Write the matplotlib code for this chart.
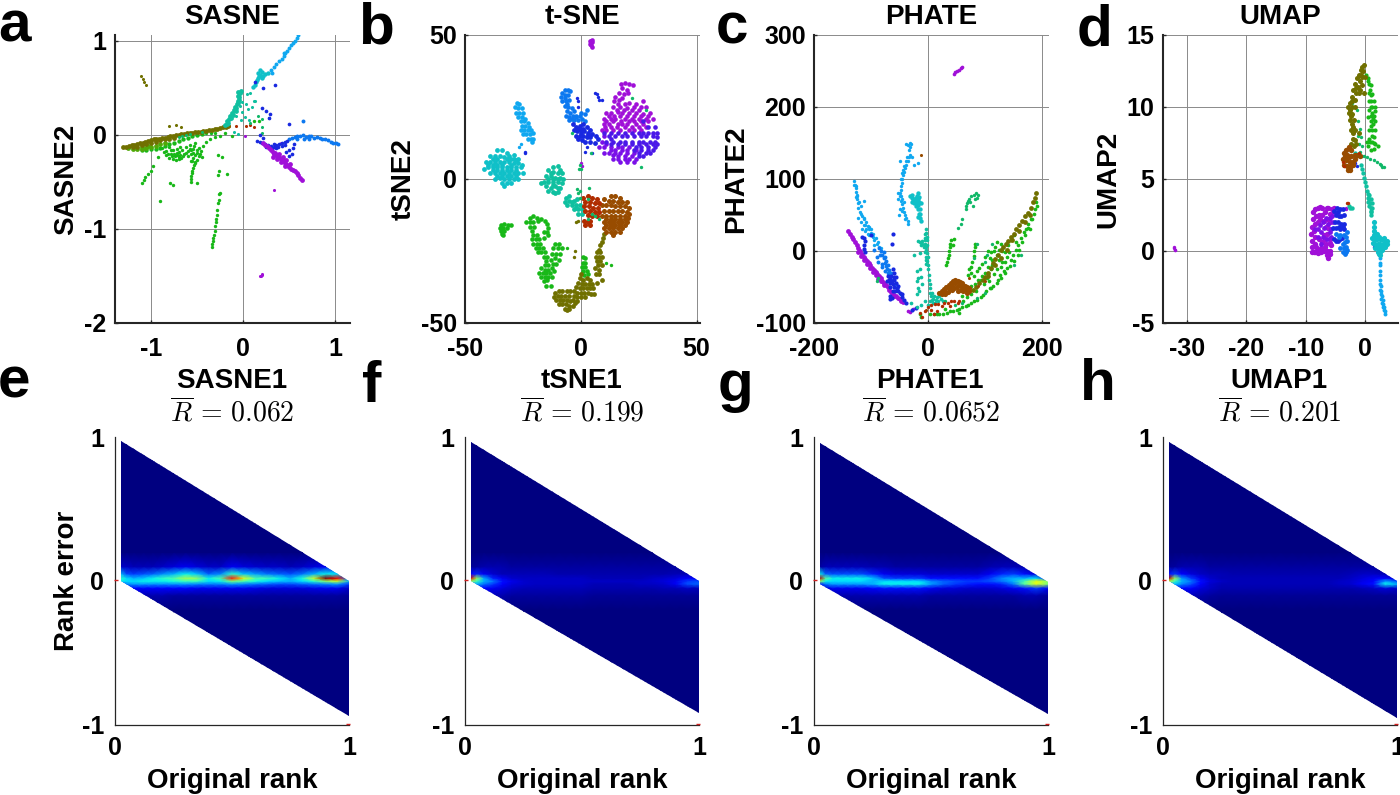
import numpy as np
import matplotlib
matplotlib.use('Agg')
import matplotlib.pyplot as plt
from matplotlib.patches import Polygon

plt.rcParams['font.family'] = ['Liberation Sans', 'DejaVu Sans']
plt.rcParams['font.weight'] = 'bold'
plt.rcParams['axes.unicode_minus'] = False
plt.rcParams['mathtext.fontset'] = 'cm'

# cluster colours
VIOLET = '#a010d8'
PURPLE = '#7a10e8'
INDIGO = '#4a18e8'
BLUE = '#1828e0'
AZURE = '#0c78f0'
SKY = '#10a8f0'
CYAN = '#10c0c8'
TEAL = '#10c0a0'
MINT = '#10b868'
GREEN = '#18b818'
LIME = '#50a808'
OLIVE = '#707000'
BROWN = '#984c00'
RED = '#b02c00'

# ---- SASNE
sasne_olive = [(-1.30,-.13),(-1.27,-.13),(-1.24,-.12),(-1.21,-.11),(-1.18,-.11),(-1.15,-.10),(-1.12,-.09),(-1.09,-.09),(-1.06,-.08),(-1.03,-.07),(-1.0,-.06),(-.97,-.05),(-.94,-.05),(-.91,-.04),(-.88,-.03),(-.85,-.03),(-.82,-.02),(-.79,-.01),(-.76,-.01),(-.73,0),(-.70,0),(-.67,.01),(-.64,.01),(-.61,.02),(-.58,.02),(-.55,.02),(-.52,.03),(-.49,.03),(-.46,.03),(-.43,.04),(-.40,.04),(-.37,.05),(-.34,.05),(-.31,.06),(-.28,.06),(-.25,.07),(-.22,.08),(-.19,.08),(-.16,.09),(-1.2,-.13),(-1.15,-.125),(-1.1,-.11),(-1.05,-.10),(-1.0,-.09),(-.95,-.075),(-.9,-.06),(-.85,-.05),(-.8,-.04),(-.75,-.03)]
sasne_olive_stray = [(-1.11,.62),(-1.09,.59),(-1.07,.56),(-1.05,.53),(-.80,.09),(-.73,.10),(-.67,.08)]
sasne_lime = [(-1.25,-.14),(-1.2,-.15),(-1.15,-.155),(-1.1,-.15),(-1.05,-.145),(-1.0,-.13),(-.95,-.115),(-.9,-.1),(-.85,-.085),(-1.1,-.13),(-1.03,-.115)]
sasne_green_core = [(-1.1,-.16),(-1.05,-.16),(-1.0,-.155),(-.95,-.15),(-.9,-.14),(-.85,-.12),(-.8,-.10),(-.75,-.085),(-.7,-.07),(-.65,-.05),(-.6,-.03),(-.55,-.01),(-.5,0),(-.45,.01)]
sasne_green = [(-.4,.02),(-.35,.02),(-.3,.02),
    (-.88,-.14),(-.84,-.17),(-.8,-.13),(-.78,-.2),(-.76,-.16),(-.74,-.23),(-.72,-.19),(-.7,-.26),(-.68,-.21),(-.66,-.16),(-.8,-.25),(-.76,-.26),(-.73,-.27),(-.7,-.24),(-.67,-.25),(-.64,-.2),(-.62,-.13),(-.6,-.17),(-.58,-.11),(-.56,-.2),(-.54,-.15),(-.52,-.09),(-.5,-.19),(-.48,-.14),(-.47,-.2),(-.45,-.24),(-.5,-.27),(-.54,-.25),(-.57,-.28),(-.58,-.15),(-.44,-.12),(-.92,-.24),(-.84,-.22),
    (-.78,-.16),(-.75,-.2),(-.72,-.15),(-.7,-.18),(-.68,-.13),(-.65,-.23),(-.62,-.19),(-.6,-.23),(-.56,-.16),(-.54,-.19),(-.52,-.22),(-.5,-.16),(-.48,-.23),(-.46,-.17),(-.53,-.12),(-.55,-.28),(-.52,-.3),(-.86,-.18),(-.82,-.2),(-.77,-.23),(-.72,-.22),
    (-.57,-.5),(-.565,-.47),(-.56,-.44),(-.555,-.41),(-.55,-.38),(-.545,-.35),(-.535,-.32),(-.52,-.29),(-.5,-.51),
    (-.34,-1.19),(-.335,-1.16),(-.33,-1.13),(-.325,-1.1),(-.32,-1.07),(-.31,-1.02),(-.30,-.97),(-.295,-.93),(-.29,-.89),(-.285,-.85),(-.28,-.8),(-.27,-.73),(-.265,-.69),(-.26,-.63),(-.255,-.62),
    (-1.1,-.51),(-1.08,-.48),(-1.06,-.45),(-1.03,-.42),(-1.0,-.38),(-.98,-.33),(-.79,-.51),(-.76,-.53),(-.9,-.7),(-.27,-.22),(-.23,-.24),(-.26,-.38),(-.18,-.42),(-.27,-.43),
    (-.4,-.08),(-.36,-.05),(-.3,-.02),(-.25,-.01),(-.2,.02),(-.12,-.01),(.12,.15),(.17,.15)]
sasne_mint = [(-.7,-.02),(-.66,-.01),(-.62,0),(-.58,.01),(-.45,.03),(.08,.12),(.16,.2),(.2,.17),(.28,.18),(.2,.08),(.2,.02)]
sasne_teal = [(-.2,.1),(-.18,.11),(-.17,.15),(-.16,.13),(-.15,.17),(-.14,.2),(-.13,.18),(-.12,.23),(-.11,.21),(-.10,.26),(-.09,.3),(-.08,.28),(-.07,.33),(-.06,.36),(-.05,.34),(-.06,.41),(-.04,.4),(-.05,.45),(-.03,.44),(-.02,.46),(-.08,.25),(-.04,.37)]
sasne_teal_stray = [(-.03,.31),(-.01,.35),(.03,.33),(.05,.27),(-.01,.24),(.02,.19),(-.08,.2),(.06,.16),(-.02,.16),(.1,.3),(.12,.36),(.04,.43),(.08,.44),(.13,.36),(-.1,.03),(-.06,.01)]
sasne_cyan = [(.11,.51),(.13,.53),(.14,.56),(.15,.58),(.16,.6),(.17,.62),(.165,.66),(.18,.64),(.18,.69),(.2,.6),(.22,.62),(.24,.65),(.27,.66),(.2,.67)]
sasne_sky = [(.3,.69),(.33,.72),(.36,.75),(.39,.78),(.42,.81),(.44,.84),(.46,.87),(.48,.89),(.5,.92),(.52,.95),(.54,.97),(.56,1.0),(.58,1.03),(.6,1.06),(.44,.87),(.31,.66)]
sasne_azure = [(.5,-.04),(.53,-.03),(.56,-.02),(.59,-.01),(.62,-.01),(.65,0),(.68,-.02),(.71,-.01),(.74,-.01),(.77,-.03),(.8,-.02),(.83,-.03),(.86,-.04),(.89,-.05),(.92,-.06),(.95,-.08),(.98,-.09),(1.01,-.09),(1.03,-.1),(.66,-.05),(.72,-.05),(.58,-.05),(.65,.15)]
sasne_blue = [(.15,-.07),(.18,-.08),(.21,-.09),(.24,-.1),(.27,-.11),(.3,-.12),(.33,-.1),(.36,-.11),(.39,-.1),(.42,-.09),(.45,-.08),(.48,-.07),(.25,-.13),(.31,-.15),(.36,-.14),(.5,-.16),(.54,-.14),(.53,-.2),(.5,-.23),(.47,-.18),(.55,-.1),(.22,-.03),(.18,0),(.13,.56),(.22,.5),(.35,.53),(.2,.28),(.25,.25),(.29,.22),(.28,.18),(.5,.11),(.34,-.13),(.38,-.13),(.42,-.12),(.46,-.11)]
sasne_violet = [(.22,-.09),(.24,-.11),(.26,-.12),(.28,-.14),(.3,-.16),(.32,-.18),(.34,-.2),(.36,-.22),(.38,-.23),(.4,-.25),(.42,-.27),(.44,-.28),(.46,-.3),(.48,-.32),(.5,-.34),(.52,-.36),(.54,-.37),(.56,-.39),(.58,-.41),(.6,-.43),(.62,-.46),(.64,-.48),(.35,-.19),(.39,-.2),(.43,-.24),(.47,-.27),(.51,-.31),(.32,-.24),(.37,-.26),(.41,-.29),(.45,-.33)]
sasne_violet_stray = [(.02,-.01),(.34,-.59),(.18,-1.5),(.19,-1.5),(.2,-1.49),(.21,-1.48),(.41,-.09)]
sasne_red = [(-.08,.09),(-.15,.09),(.03,.09),(.08,.1),(.12,.08)]

# ---- t-SNE
tsne_violet = [(4,47),(4.5,48),(5,47.5),(4.5,46.5),(5,46),(4.2,47.8),(5,48.2),(17.5,33),(19,33.5),(21,33),(22.5,32.5),(18,31.5),(20,31),(16.5,30),(18.5,29.5),(20.5,30),(15,28.5),(16.5,27.5),(18,28),(14.5,27),(16,26),(19,26),(21,26.5),(24,26),(27,27),
    (14,25),(17,25),(20,24.6),(23,25),(26,25),(28,25),(11,23),(13,23),(16,23.4),(18,23),(21,23),(24,23),(27,22.6),(30,23),(10,21),(13,21),(15,21),(19,21),(22,21),(25,21),(28,21),(31,21),(10,19),(12,19),(16,19),(18,19),(20,19),(24,19),(27,19),(9,17),(11,17),(14,17),(17,17),(21,17),(23,17),(26,17),
    (15.5,24),(18.5,24),(22,24),(25,24),(12,22),(14.5,22),(17,22),(20,22),(23,22),(26,22),(29,22),(11,20),(14,20),(17.5,20),(21,20),(23,20),(26,20),(29,20),(10.5,18),(13,18),(15.5,18),(19,18),(22,18),(25,18),(28,18)]
tsne_violet_stray = [(0.6,4.5),(.3,5.5)]
tsne_indigo = [(29,18),(32,18),(29,16),(31,16),(33,16),(12,15),(15,15),(18,15),(20,15),(23,15),(26,15),(28,15),(31,15),(33,14.5),(11,13),(14,13),(17,13),(19,13),(22,13),(25,13),(27,13),(30,13),(32,13),(24,11),(26,11),(29,11),(32,11),(25,9),(28,9),(30,9),(13,14),(19,12),(27,20),
    (10,16),(13,16),(16,16),(19,16),(22,16),(25,16),(27,16),(13,12),(16,12),(22,12),(25,12),(28,12),(31,12),(33,12),(23,10),(26,10),(29,10),(31,10),(25,8),(27,8)]
tsne_purple = [(9,13),(10,15),(8,11),(10,11),(13,11),(16,11),(18,11),(21,11),(10,9),(12,9),(15,9),(17,9),(20,9),(23,9),(14,7),(16,7),(19,7),(21,7),(24,7),(17,6),(20,6),(23,6),(13,10),(16,8),(22,8),(11,12),(18,10),(20,10),(15,10),(19,8),(14,8.5),(24,10)]
tsne_blue = [(-3.5,19),(-2,18),(-.5,18.5),(1,19),(2.5,18),(4,17),(-3,17),(-1.5,16.5),(0,17),(1.5,16.5),(3,16),(5,15.5),(6.5,15),(-2,15),(-.5,15),(1,15),(2.5,14.5),(4,14.5),(7.5,14),(-1,14),(.5,13.5),(2,13),(4,13),(6,12.5),(-1,17.5),(1,17.5),(3,15.2),(0,16)]
tsne_blue_stray = [(2.5,11),(5,9),(2,9.5),(-1,27),(-1.5,28),(-1,25),(6,30),(7,29.5),(7.5,28.5),(8,27.5),(9,27.5),(-24,9),(-24,9.5)]
tsne_azure = [(-8,30),(-7,31),(-5.5,31),(-4.5,30.5),(-8.5,28.5),(-7,29),(-5.5,29),(-8,27),(-6.5,27),(-5,27.5),(-7,25.5),(-5.5,25),(-4,24.5),(-6,23.5),(-4.5,23),(-3,23.5),(-6.5,22),(-5,21.5),(-3.5,22),(-2,22),(-.5,22),(-5,20.5),(-3,20.5),(-1,20.5),(.5,21),(2,20),(0,23),(2,22.5),(2.5,24),(-7,28),(-6,26),(-4,21),(-2,21.5)]
tsne_sky = [(-27.5,26.5),(-26.5,26),(-28.5,25),(-27,24.5),(-25.5,24.5),(-28,23),(-26.5,23),(-25,23),(-27,21.5),(-25.5,21.5),(-24,21),(-26,20),(-24.5,20),(-23,19.5),(-25.5,18.5),(-24,18.5),(-22.5,18),(-26,17),(-24.5,17),(-23,17),(-21.5,17),(-25,15.5),(-23.5,15.5),(-22,15.5),(-20.5,16),(-23,14),(-21.5,14),(-20.5,14),(-21,13)]
tsne_sky_stray = [(-26,12),(-26.5,11)]
tsne_cyan = [(-36,10),(-34,10),(-32,9),(-29,8.5),(-39,8),(-37,8),(-35,8),(-33,7.5),(-31,8),(-29,7),(-27,7),(-41,6),(-39,6),(-37,6),(-35,6),(-33,6),(-31,6),(-29,5.5),(-27,5.5),(-25.5,5),(-40,4),(-38,4),(-36,4),(-34,4),(-32,4),(-30,4),(-28,4),(-26,4),(-39,2),(-37,2),(-35,2),(-33,2),(-31,2),(-29,2),(-27,2),(-37,0),(-35,.3),(-33,0),(-31,0),(-29,0),(-27,0),(-34,-1.5),(-32,-1.5),(-30,-1.5),(-33,-2.5),(-42,3.5),(-25,2),
    (-38,7),(-36,7),(-34,5),(-32,7),(-30,7),(-28,6.5),(-40,5),(-38,5),(-36,5),(-30,5),(-28,3),(-38,3),(-36,3),(-34,3),(-32,3),(-30,3),(-36,1),(-34,1),(-32,1),(-30,1),(-28,1)]
tsne_teal = [(-10,4.5),(-12,4),(-9,3),(-14,3),(-12,2.5),(-10,2),(-8,2),(-15,1),(-13,1),(-11,.5),(-9,.5),(-7.5,0),(-16,-1),(-14,-1),(-12,-1),(-10,-1),(-8,-1.5),(-17,-1.5),(-15,-2.5),(-13,-3),(-11,-2.5),(-9,-3),(-14,-4),(-12,-4.5),(-10,-4.5),(-11,-5),(-6.5,-6.5),(-5,-6),(-7,-8),(-5,-7.5),(-3,-7.5),(-1.5,-7),(-6,-9),(-4,-9),(-2,-9),(-.5,-9),(-3,-10.5),(-1,-10.5),(.5,-10.5),(-1,-12),(.5,-12),(-13,2),(-14,0),(-10,0),(-12,0),(-12,-2),(-10,-3),(-4,-8),(-2,-10)]
tsne_mint = [(-.5,5),(0,3.5),(-.6,3.5),(3,-7),(4.5,9),(-.5,-4),(5,-12),(6,-13),(3,-14),(8,-14),(26,4),(28,24),(22,28),(-4,16),(3.5,-3),(-.5,-6.5),(-1.5,-3.5),(-1,-5)]
tsne_red = [(1,-6.5),(3,-6),(5,-6.5),(7,-7),(2,-8),(4,-8),(6,-8.5),(8,-8.5),(1.5,-9.5),(3.5,-9.5),(5.5,-10),(7.5,-10),(2,-11),(4,-11),(6,-11.5),(8,-11.5),(3,-12.5),(5,-13),(7,-13),(1.5,-14.5),(3,-15),(2,-16),(4,-16),(4,-14.5)]
tsne_brown = [(13,-6),(15,-6),(17,-6.5),(10,-7),(12,-7.5),(14,-7.5),(16,-8),(18,-8),(20,-8),(9,-9),(11,-9),(13,-9),(15,-9.5),(17,-9.5),(19,-9.5),(21,-10),(10,-11),(12,-11),(14,-11),(16,-11),(18,-11),(20,-11.5),(21,-12),(9,-13),(11,-13),(13,-13),(15,-13),(17,-13),(19,-13),(20.5,-13.5),(10,-15),(12,-15),(14,-15),(16,-15),(18,-15),(20,-15),(10,-17),(12,-17),(14,-17),(16,-17),(18,-17),(11,-18.5),(13,-18.5),(15,-18.5),(17,-18.5),(14,-19.5),(11,-14),(13,-14),(15,-14),(17,-14),(19,-14),(11,-16),(13,-16),(15,-16),(17,-16),(19,-16)]
tsne_olive = [(10,-19),(9.5,-20.5),(9,-22),(8.5,-23),(8,-24.5),(7,-25.5),(8.5,-25.5),(6.5,-27),(8,-27),(9,-27),(7,-28.5),(8.5,-28.5),(7.5,-30),(9,-30),(6,-31),(8,-31.5),(6.5,-33),(8,-33),(9,-35),
    (0,-33),(-.5,-34.5),(1,-35),(2.5,-34.5),(4,-35),(-1,-36),(.5,-36.5),(2,-36.5),(3.5,-36.5),(5,-36.5),(7,-36),(-2,-37.5),(-.5,-38),(1,-38),(2.5,-38),(4,-38),(5.5,-38),(-3,-39),(-1.5,-39.5),(0,-39.5),(1.5,-39.5),(3,-39.5),(4.5,-40),(5.8,-40),(-4.5,-39),(-3,-40.5),(-1.5,-41),(0,-41),(2,-41),(-6,-39),(-5,-40.5),(-3.5,-42),(-1.5,-42.5),(-11,-39.5),(-9.5,-39),(-8,-39),(-11.5,-41),(-10,-40.5),(-8.5,-40.5),(-7,-40.5),(-10.5,-42),(-9,-42),(-7.5,-42),(-6,-42),(-4.5,-42.5),(-2.5,-43),(-9.5,-43.5),(-8,-43.5),(-6.5,-43.5),(-5,-44),(-3.5,-44),(-7,-45),(-5,-45),(-6,-45.5)]
tsne_olive_stray = [(-3,-27),(-2.5,-25),(-2,-15),(-1,-14.5)]
tsne_green = [(-22,-13.5),(-20.5,-13),(-19,-13.5),(-23.5,-15),(-22,-15),(-20.5,-15),(-18.5,-14.5),(-17,-14),(-15.5,-14.5),(-22,-16.5),(-20,-16.5),(-14.5,-15.5),(-21,-18),(-14,-17),(-16,-18.5),(-14.5,-18.5),(-20.5,-19.5),(-19,-19.5),(-14,-19.5),(-21,-21),(-19.5,-21),(-18,-21),(-16,-20.5),(-20.5,-22.5),(-19,-22.5),(-17.5,-22.5),(-19.5,-24),(-18,-24),(-16.5,-24),(-11,-22.5),(-9.5,-22.5),(-18.5,-25.5),(-17,-25.5),(-15.5,-25.5),(-12,-24),(-10,-24),(-8,-24),(-16,-27),(-14.5,-27),(-12.5,-26),(-10.5,-26),(-9,-26),(-15,-28.5),(-13,-28),(-11,-27.5),(-9.5,-28),(-15.5,-30),(-14,-30),(-12,-29.5),(-10.5,-29.5),(-17,-31),(-15.5,-31.5),(-14,-31.5),(-12.5,-31),(-18,-32.5),(-16.5,-32.5),(-15,-32.5),(-13.5,-32.5),(-11.5,-32),(-17,-34),(-15.5,-34),(-14,-34),(-12.5,-34),(-16,-35.5),(-14.5,-35),(-15,-37),(-13,-37),
    (-34.5,-15.8),(-33,-15.5),(-31.5,-16),(-30,-16),(-35,-17),(-33.5,-17),(-32,-17),(-34.5,-18),(-33,-18),(-34,-19),(-33.5,-19.4),(1,-27),(2,-27.5),(.8,-29),(2,-29),(.5,-30.5),(1.8,-30.5),(1,-32),(2.5,-32),(1.5,-33.5),(3,-33)]
tsne_green_stray = [(-6,-24),(13,-30),(11,-29)]

# ---- PHATE
phate_violet = [(-140,28),(-137,24),(-134,20),(-131,16),(-128,12),(-125,8),(-122,4),(-119,0),(-116,-4),(-113,-8),(-110,-11),(-107,-14),(-104,-17),(-101,-20),(-98,-23),(-95,-26),(-92,-29),(-89,-32),(-86,-35),(-83,-38),(-80,-41),(-77,-44),(-74,-47),(-71,-50),(-68,-54),(-65,-57),(-62,-60),(-59,-62),(-56,-63),(-53,-65),(-50,-67),(-47,-69),(-44,-71),(-122,-1),(-117,-7),(-112,-13),(-107,-18),(-102,-24),(-97,-29),(-92,-33),(-87,-39),(-82,-42),(-77,-47)]
phate_violet_line = [(45,246),(48,248),(51,250),(54,252),(57,254),(60,256),(-26,-80),(-35,-84),(-31,-85)]
phate_blue = [(-115,20),(-112,18),(-110,14),(-113,8),(-112,3),(-110,-1),(-100,22),(-62,-25),(-59,-30),(-57,-36),(-60,-40),(-68,-40),(-72,-42),(-66,-44),(-62,-46),(-66,-50),(-60,-50),(-55,-52),(-62,-56),(-67,-62),(-66,-66),(-63,-65),(-50,-58),(-46,-64),(-42,-68),(-38,-72),(-65,-35),(-70,-35),(-62,24),(-64,10),(-28,-82),(-22,-79),(-66,-38),(-60,-36),(-63,-42),(-57,-44),(-53,-48),(-58,-55),(-52,-55),(-46,-60)]
phate_sky = [(-129,97),(-128,92),(-127,87),(-126,82),(-125,77),(-124,72),(-123,66),(-122,60),(-120,54),(-118,62),(-113,70),(-115,48),(-112,44),(-109,40),(-106,35),(-103,30),(-100,25),(-97,20),(-94,15),(-90,10),(-86,6),(-82,4),(-122,46),(-118,40),(-113,36),(-108,30),(-103,22),(-95,8),(-32,150),(-35,147),(-38,148),(-32,145),(-30,148),(-33,140),(-31,134),(-34,130),(-36,125),(-38,120),(-40,115),(-42,110),(-44,105),(-45,100),(-46,95),(-47,90),(-48,85),(-49,80),(-50,76),(-52,72),(-48,70),(-46,65),(-44,60),(-50,58),(-42,54),(-40,50),(-38,46),(-36,42),(-35,38),(-51,50),(-28,130),(-25,120),(-18,122),(-50,125),
    (-130,92),(-126,90),(-124,78),(-127,75),(-121,68),(-117,52),(-113,46),(-110,36),(-104,34),(-100,30),(-96,24),(-92,18),(-88,12),(-106,24),(-110,28),(-116,30),(-37,130),(-39,125),(-42,118),(-44,112),(-45,108),(-47,100),(-52,80),(-48,76),(-46,72),(-42,68),(-45,55),(-40,44)]
phate_azure = [(-86,4),(-83,0),(-80,-5),(-78,-10),(-76,-16),(-74,-21),(-72,-25),(-70,-30),(-90,-8),(-87,-15),(-80,-18),(-75,-28),(-66,-33),(-62,-40),(-57,-46),(-54,-52),(-48,-60),(-94,2),(-80,-22),(-84,-6),(-78,-2),(-76,-8),(-74,-14),(-71,-20),(-68,-26),(-65,-30)]
phate_cyan = [(-32,76),(-28,74),(-24,72),(-20,76),(-17,80),(-16,75),(-20,68),(-25,66),(-22,62),(-18,58),(-16,52),(-14,46),(-18,47),(-13,42),(-29,68),(-12,66),(-28,78),(-26,70),(-22,70),(-18,72),(-22,74),(-16,68),(-20,64),(-18,64),(-15,58),(-14,52)]
phate_teal = [(-3,30),(-3,25),(-2,20),(-2,15),(-6,15),(-10,14),(-14,12),(-18,14),(-10,10),(-5,9),(-2,8),(-3,2),(-2,-3),(-1,-8),(-2,-14),(-1,-20),(0,-25),(2,-40),(3,-46),(4,-52),(7,-58),(10,-62),(14,-68),(8,-66),(4,-70),(16,-64),(22,-66),(26,-70),(-14,-25),(-20,-28),(-12,-36),(-17,-38),(-20,-42),(-16,-56),(-20,-60),(-25,-6),(-15,-3),(-18,-52),(-5,-70),(-12,-75),(-20,-78),(-30,-72),(-10,-46),(0,-75),
    (-5,24),(-6,10),(-4,5),(-8,6),(-5,-2),(-4,-8),(-3,-12),(-5,18),(-12,8),(-4,-18),(5,-62),(8,-72),(12,-72),(18,-70),(20,-62),(3,-58),(6,-68),(1,-34)]
phate_mint = [(66,62),(69,66),(72,72),(76,76),(80,78),(84,80),(66,58),(82,72),(78,62),(60,45),(57,38),(53,32),(-90,-42),(-88,-38),(112,10),(103,-5),(100,-15),(86,10),(80,-10),(30,-70),(47,-75),(60,-72),(85,-65),(100,-58),(150,-20),(163,-5),(70,70),(74,68),(87,78),(85,74)]
phate_green = [(41,15),(39,10),(38,5),(37,0),(36,-5),(35,-10),(33,-15),(32,-20),(45,16),(44,8),(83,10),(82,5),(81,0),(80,-7),(77,-15),(75,-22),(72,-25),(70,-33),(75,-30),(80,-35),(85,-28),(90,-24),(88,-40),(82,-46),(75,-48),(68,-52),(95,-35),(100,-30),(105,-22),(95,-18),(100,-8),(105,0),(110,-2),(112,-12),(118,5),(120,-6),(125,2),(128,10),(130,-15),(135,-2),(140,8),(145,15),(150,22),(155,12),(143,-21),(120,-44),(96,-61),(67,-77),(44,-84),(20,-88),(3,-88),(150,-14),(157,-5),(160,2),(165,12),(170,22),(175,32),(178,30),(183,45),(188,58),(191,62),(190,68),(135,-30),(128,-38),(110,-52),(85,-68),(75,-72),(55,-80),(33,-86),(10,-87),(55,-86),(30,-80),(-15,-88),(-12,-92),(62,-70),(60,-63),(110,-25),(103,-38),(115,-32),
    (186,52),(181,44),(176,38),(172,30),(168,26),(163,18),(158,8),(154,2),(149,-6),(145,-12),(138,-24),(133,-28),(126,-34),(122,-40),(114,-48),(108,-52),(102,-56),(92,-64),(80,-70),(70,-75),(60,-78),(50,-82),(38,-84),(26,-87),(15,-87),(108,-10),(115,0),(120,12),(125,-12),(130,0),(138,-8),(142,-2),(112,-20),(92,-40),(98,-46),(106,-42),(84,-55),(76,-60),(68,-64),(120,-25),(128,-22),(135,-15)]
phate_olive = [(190,80),(187,73),(184,68),(180,60),(175,53),(170,48),(165,42),(160,36),(155,30),(150,24),(145,19),(140,14),(136,10),(131,6),(127,1),(122,-6),(118,-11),(114,-17),(110,-23),(105,-30),(100,-36),(96,-40),(90,-45),(84,-50),(79,-54),(178,50),(170,40),(160,28),(148,15),(138,2),(128,-10),(118,-20),(105,-35)]
phate_brown = [(20,-58),(24,-56),(28,-53),(32,-50),(36,-47),(40,-44),(44,-42),(48,-40),(52,-42),(56,-43),(60,-45),(64,-48),(68,-50),(72,-52),(24,-60),(30,-57),(36,-52),(42,-48),(48,-45),(54,-47),(60,-50),(66,-53),(35,-57),(42,-54),(50,-50),(57,-54),(72,-56),(68,-58),(46,-52),(52,-55),(62,-55),(30,-60)]
phate_brown_stray = [(-3,-82),(88,-48),(100,-41),(72,-38),(-12,133)]
phate_red = [(5,-75),(12,-73),(18,-74),(28,-72),(35,-72),(40,-70),(46,-70),(52,-72),(5,-82),(15,-84),(0,-78),(-5,-84),(-14,-86),(-10,-92),(24,-76),(10,-88),(38,-76),(55,-70)]

# ---- UMAP
umap_violet = [(-8.8,2.7),(-8.4,2.9),(-8,3),(-7.6,3.05),(-7.2,3),(-8.8,2.2),(-8.3,2.4),(-7.8,2.5),(-7.3,2.5),(-6.8,2.7),(-9,1.7),(-8.5,1.9),(-8,2),(-6.4,2.2),(-6,2.6),(-9.1,1.2),(-6.6,1.7),(-6,2),(-9,.7),(-8.5,1),(-7,1.1),(-6.4,1.2),(-8.9,.25),(-8.4,.5),(-7.8,.8),(-7.2,.6),(-6.6,.5),(-6,.8),(-5.7,.4),(-8.9,-.1),(-8.4,-.1),(-8,.1),(-7.5,.2),(-7,0),(-6.5,0),(-6,0),(-6.4,-.3),(-6.2,-.5),(-6,-.2),(-6.2,-.15),(-8.7,-.05),(-8,-.15),(-7.5,-.1),(-5.6,2.9),(-5.2,3),(-6.5,3),(-6.2,3),(-7,2.1),(-7.6,2.2),(-8.6,1.4),(-6.3,1.6),(-6.8,.8),(-5.9,.55),(-8.2,.3),(-7.5,.1),(-6.8,.25)]
umap_violet_stray = [(-32.2,.3),(-32.1,.2),(-32,.1),(-31.9,.05),(-3.3,2.95),(-3.2,3)]
umap_purple = [(-8.4,1.5),(-8,1.5),(-7.6,1.8),(-7.1,2),(-8,1),(-7.5,1.3),(-7,1.6),(-5.7,1.5),(-6.5,.8),(-7.5,.5),(-7.1,1),(-5.8,1),(-5.5,2),(-5.6,2.4),(-5.3,2.7),(-6.6,2.3),(-6.2,1.9),(-5.9,1.3),(-6,2.3)]
umap_blue = [(-4.8,3),(-4.3,2.9),(-3.8,2.9),(-5,2.5),(-4.5,2.4),(-4,2.4),(-3.6,2.5),(-5.1,2),(-4.6,2),(-4,1.9),(-3.5,1.9),(-5,1.6),(-3.6,1.5),(-4.2,1.5),(-5.3,.8),(-5,.7),(-4.6,.7),(-4.2,.8),(-3.9,.9),(-5.4,1.6),(-4.6,2.7),(-5.2,2.8),(-4.5,1.7),(-3.8,1.7)]
umap_blue_stray = [(-1.8,6.1),(-1.4,5.9),(1.5,.3),(1.6,.4)]
umap_azure = [(-4.9,1.2),(-3.5,1.1),(-3.2,1),(-3.8,.5),(-3.4,.6),(-3.1,.7),(-4.2,.2),(-3.6,.2),(-3.2,.3),(-3.8,-.1),(-3.3,-.1),(-3.1,.1),(-3.4,-.2),(-3,1.3),(-4.2,1.1),(-4.4,.95)]
umap_sky = [(2.4,-2.3),(2.6,-2.4),(2.5,-2.7),(2.7,-2.8),(2.6,-3),(2.8,-3.1),(2.7,-3.3),(2.9,-3.4),(2.8,-3.6),(3,-3.7),(3,-3.9),(3.2,-3.9),(3.1,-4.1),(3.3,-4.2),(3.3,-4.4),(2.5,-2),(2.4,-1.7),(2.5,-1.4),(2.4,-1),(2.5,-.8),(2.5,-.5)]
umap_cyan = [(1.5,2),(1.4,1.7),(1.5,1.4),(1.4,1.1),(1.6,1.2),(2,1.15),(2.3,1),(1.2,.9),(1.6,.85),(2,.8),(2.4,.8),(2.8,.85),(3.2,.9),(1.3,.55),(1.7,.5),(2.1,.5),(2.5,.5),(2.9,.5),(3.3,.6),(3.6,.7),(3.7,.5),(1.7,.2),(2.1,.2),(2.5,.25),(2.9,.25),(3.3,.3),(2.1,-.05),(2.5,-.05),(2.8,.05),(2.3,-.2),(2.4,-.3)]
umap_teal = [(-.7,6),(-.5,5.7),(-.35,5.4),(-.2,5.1),(-.1,4.8),(.1,4.5),(.25,4.2),(.5,3.95),(.7,3.9),(.4,3.7),(.7,3.6),(1,3.6),(.5,3.4),(.8,3.3),(1.1,3.3),(.6,3.1),(.9,3),(1.1,3),(.9,2.7),(1,2.5),(.95,2.8),(-2.7,3.1),(-2.5,3),(-2.3,3),(-1.7,6.8),(-1.4,6.7)]
umap_mint = [(-.5,6.6),(-.2,6.6),(.3,6.5),(.8,6.4),(1.4,6.3),(1.9,6.15),(2.4,6.05),(2.8,5.85),(3.2,5.8),(2.6,5.95),(-1.2,9),(-.9,8.5),(-1.3,8),(-.7,7.9),(-1.1,7.4),(-.5,7.3),(-.9,6.9),(-2.2,10.3),(-1.4,9.8)]
umap_green = [(.2,12.2),(.4,11.8),(.7,11.6),(.8,11.2),(.9,10.8),(.95,10.4),(1.1,10),(1.2,9.6),(1.3,9.2),(1.3,8.8),(1.1,8.4),(1.2,8),(1.1,7.6),(1.4,7.5),(1.7,7.4),(2.2,7.3),(1.5,7.9),(1.6,8.4),(1.7,9),(1.7,9.7),(.6,10.4),(.7,9.8),(.6,11),(.9,9),(.7,8.4),(.6,7.8),(.3,7.6),(.5,7.3),(1.5,7.1),(1,7),(.4,9.3),(1.6,10),(.5,12),(.9,11.5),(1.2,10.9),(1.4,10.4),(1.5,9.4),(.9,10),(1,9.4),(1,8.7),(.8,7.6)]
umap_olive = [(-.2,12.9),(-.5,12.8),(-.3,12.5),(-.8,12.6),(-.1,12.1),(-.5,12.1),(-1.1,12.2),(-1.4,12),(-.9,11.8),(-1.7,11.6),(-1.2,11.4),(-.5,11.5),(-2,11.2),(-1.6,11),(-1.1,11),(-2.2,10.7),(-1.8,10.5),(-2.6,10.3),(-2.2,10),(-2.9,10),(-2.7,9.6),(-2.3,9.5),(-2.6,9.1),(-2.2,8.8),(-2.4,8.4),(-2,8.2),(-2.1,7.8),(-1.7,7.7),(-2.4,7.4),(-1.9,7.3),(-1.5,7.4),(-1,8.2),(-.9,11.2),(-.2,11),(-.8,12.2),(-1.5,11.3),(-2.3,10.4),(-2.6,9.8),(-1.8,10),(-1.9,9.1),(-2.4,9.4),(-2,8.6),(-1.7,8.4)]
umap_brown = [(-2.8,7.2),(-3.2,7),(-2.4,7),(-3.5,6.8),(-3,6.7),(-2.4,6.6),(-1.8,6.7),(-3.7,6.4),(-3.2,6.3),(-2.6,6.2),(-2.1,6.2),(-1.7,6.4),(-3.5,5.95),(-3,5.9),(-2.5,5.8),(-2,5.95),(-2.9,5.6),(-2.6,5.6),(-1.3,6.7),(-.9,6.6),(-3.4,6.6),(-2.8,6.5)]
umap_red = [(-3.1,3.35),(-2.95,3.3),(-1.1,6.8),(-3.6,5.9),(-3.7,6.2)]

# ---- rank error heat maps
rank_x = [.025,.05,.08,.12,.16,.2,.25,.3,.35,.4,.45,.5,.55,.6,.65,.7,.75,.8,.85,.9,.95,1.0]
rank_y = [-1.0,-.2,-.10,-.05,-.02,0,.02,.05,.10,.2,1.0]
heat_zero = [0]*22
sasne_heat = [heat_zero, heat_zero,
    [0,.02,.04,.04,.04,.04,.03,.03,.03,.03,.03,.03,.03,.03,.03,.03,.03,.03,.03,.03,.03,.02],
    [.02,.1,.12,.12,.12,.12,.11,.11,.1,.1,.1,.1,.1,.09,.08,.08,.08,.08,.09,.1,.1,.06],
    [.14,.26,.28,.28,.27,.27,.27,.28,.26,.25,.25,.28,.26,.24,.22,.2,.2,.22,.24,.26,.28,.18],
    [.36,.34,.34,.36,.36,.36,.38,.42,.42,.34,.36,.5,.44,.38,.34,.32,.3,.34,.4,.52,.6,.3],
    [.4,.34,.3,.32,.36,.4,.44,.55,.52,.36,.44,.88,.62,.44,.42,.36,.3,.38,.6,1,.9,.25],
    [.3,.2,.18,.2,.22,.26,.3,.36,.32,.22,.26,.4,.32,.28,.24,.22,.2,.24,.3,.36,.34,0],
    [.06,.06,.05,.05,.05,.06,.08,.1,.08,.06,.06,.1,.08,.07,.06,.06,.05,.06,.08,.1,.1,0],
    heat_zero, heat_zero]
tsne_heat = [heat_zero, heat_zero,
    [0,.03,.05,.05,.04,.03,.03,.03,.03,.03,.03,.03,.02,.02,.02,.02,.02,.02,.02,.02,.02,.02],
    [.02,.1,.12,.1,.08,.06,.05,.05,.05,.05,.05,.05,.04,.04,.04,.04,.04,.04,.05,.05,.06,.05],
    [.2,.3,.24,.18,.11,.08,.07,.06,.06,.06,.06,.06,.05,.05,.05,.05,.06,.06,.07,.1,.2,.22],
    [.55,.42,.3,.24,.14,.09,.07,.06,.06,.06,.06,.06,.06,.06,.06,.06,.06,.07,.08,.1,.18,.2],
    [.92,.55,.3,.16,.1,.07,.06,.06,.06,.06,.06,.06,.05,.05,.05,.05,.05,.06,.07,.08,.12,.1],
    [.12,.16,.1,.07,.05,.05,.05,.05,.05,.04,.04,.04,.04,.04,.04,.04,.04,.04,.04,.05,.05,0],
    [.02,.03,.04,.04,.04,.03,.03,.03,.03,.03,.03,.03,.03,.03,.03,.03,.03,.03,.03,.03,0,0],
    heat_zero, heat_zero]
phate_heat = [heat_zero, heat_zero,
    [0,.02,.04,.04,.04,.04,.04,.04,.04,.04,.04,.03,.03,.03,.03,.03,.03,.03,.03,.04,.04,.02],
    [.02,.08,.1,.1,.1,.1,.12,.14,.14,.14,.14,.1,.08,.08,.07,.07,.07,.08,.1,.14,.18,.1],
    [.16,.24,.28,.28,.28,.28,.3,.36,.36,.36,.36,.28,.22,.18,.16,.14,.14,.16,.24,.46,.62,.5],
    [.55,.36,.34,.34,.34,.34,.3,.34,.34,.34,.34,.26,.22,.2,.18,.18,.2,.24,.3,.44,.64,.5],
    [.95,.46,.36,.36,.36,.36,.32,.2,.18,.18,.18,.14,.14,.14,.14,.14,.18,.26,.3,.3,.34,.1],
    [.36,.22,.2,.2,.2,.2,.16,.1,.08,.08,.08,.07,.07,.07,.07,.07,.1,.16,.18,.14,.08,0],
    [.03,.05,.05,.05,.05,.05,.04,.04,.03,.03,.03,.03,.03,.03,.03,.03,.04,.05,.05,.04,0,0],
    heat_zero, heat_zero]
umap_heat = [heat_zero, heat_zero,
    [0,.03,.05,.05,.04,.03,.02,.02,.02,.02,.02,.02,.02,.02,.02,.02,.02,.02,.02,.02,.02,.02],
    [.02,.1,.13,.11,.08,.06,.04,.04,.04,.04,.04,.04,.04,.04,.04,.04,.04,.04,.05,.06,.08,.06],
    [.2,.32,.26,.2,.12,.07,.05,.05,.05,.05,.05,.05,.05,.05,.05,.05,.06,.07,.1,.14,.36,.3],
    [.6,.42,.3,.24,.14,.08,.06,.05,.05,.05,.05,.05,.05,.05,.05,.05,.06,.07,.09,.12,.28,.2],
    [.95,.55,.28,.18,.1,.07,.05,.05,.05,.05,.05,.05,.05,.05,.05,.05,.05,.06,.08,.1,.13,.08],
    [.14,.18,.12,.08,.06,.05,.05,.04,.04,.04,.04,.04,.04,.04,.04,.04,.04,.05,.06,.06,.05,0],
    [.02,.03,.04,.04,.04,.03,.03,.03,.03,.03,.03,.03,.03,.03,.03,.03,.03,.03,.03,.03,0,0],
    heat_zero, heat_zero]
# outline of each map: upper left y, upper right y, lower right y, lower left y
sasne_edge = [.97, 0, -.94, 0]
tsne_edge = [.965, 0, -.92, 0]
phate_edge = [.96, -.01, -.925, -.02]
umap_edge = [.965, 0, -.95, 0]
# stray mass in the corners
corner_x = [.005, .995]
corner_y = [.01, -.995]

panels_top = [
    dict(title='SASNE', xl='SASNE1', yl='SASNE2', xlim=(-1.39, 1.16), ylim=(-2, 1.06), xt=[-1, 0, 1], yt=[-2, -1, 0, 1], left=115, ylx=-.207,
         groups=[(sasne_red, RED, 5), (sasne_olive_stray, OLIVE, 5), (sasne_green, GREEN, 6), (sasne_green_core, GREEN, 10), (sasne_lime, LIME, 12), (sasne_olive, OLIVE, 12), (sasne_mint, MINT, 5), (sasne_teal, TEAL, 12), (sasne_teal_stray, TEAL, 5), (sasne_cyan, CYAN, 10), (sasne_sky, SKY, 8), (sasne_azure, AZURE, 8), (sasne_violet_stray, VIOLET, 5), (sasne_blue, BLUE, 7), (sasne_violet, VIOLET, 12)]),
    dict(title='t-SNE', xl='tSNE1', yl='tSNE2', xlim=(-50, 51.5), ylim=(-50, 50), xt=[-50, 0, 50], yt=[-50, 0, 50], left=465, ylx=-.262,
         groups=[(tsne_violet, VIOLET, 11), (tsne_violet_stray, VIOLET, 6), (tsne_purple, PURPLE, 11), (tsne_indigo, INDIGO, 11), (tsne_azure, AZURE, 11), (tsne_blue, BLUE, 12), (tsne_blue_stray, BLUE, 6), (tsne_sky, SKY, 11), (tsne_sky_stray, SKY, 6), (tsne_cyan, CYAN, 12), (tsne_teal, TEAL, 12), (tsne_green, GREEN, 11), (tsne_green_stray, GREEN, 6), (tsne_olive, OLIVE, 12), (tsne_olive_stray, OLIVE, 6), (tsne_brown, BROWN, 13), (tsne_red, RED, 13), (tsne_mint, MINT, 6)]),
    dict(title='PHATE', xl='PHATE1', yl='PHATE2', xlim=(-200, 212), ylim=(-100, 300), xt=[-200, 0, 200], yt=[-100, 0, 100, 200, 300], left=814, ylx=-.33,
         groups=[(phate_sky, SKY, 6), (phate_azure, AZURE, 8), (phate_violet, VIOLET, 12), (phate_violet_line, VIOLET, 7), (phate_blue, BLUE, 9), (phate_cyan, CYAN, 10), (phate_teal, TEAL, 7), (phate_green, GREEN, 7), (phate_mint, MINT, 6), (phate_olive, OLIVE, 12), (phate_brown, BROWN, 14), (phate_brown_stray, BROWN, 5), (phate_red, RED, 6)]),
    dict(title='UMAP', xl='UMAP1', yl='UMAP2', xlim=(-34, 5.5), ylim=(-5, 15), xt=[-30, -20, -10, 0], yt=[-5, 0, 5, 10, 15], left=1163, ylx=-.232,
         groups=[(umap_violet, VIOLET, 15), (umap_violet_stray, VIOLET, 6), (umap_purple, PURPLE, 12), (umap_blue, BLUE, 12), (umap_blue_stray, BLUE, 6), (umap_azure, AZURE, 12), (umap_sky, SKY, 8), (umap_cyan, CYAN, 14), (umap_teal, TEAL, 10), (umap_green, GREEN, 9), (umap_mint, MINT, 6), (umap_olive, OLIVE, 13), (umap_brown, BROWN, 15), (umap_red, RED, 6)]),
]
panels_bottom = [
    dict(r='0.062', left=115, heat=sasne_heat, edge=sasne_edge),
    dict(r='0.199', left=465, heat=tsne_heat, edge=tsne_edge),
    dict(r='0.0652', left=814, heat=phate_heat, edge=phate_edge),
    dict(r='0.201', left=1163, heat=umap_heat, edge=umap_edge),
]
letters = [('a', -2, 42), ('b', 358, 44), ('c', 716, 44), ('d', 1077, 46), ('e', -2, 398), ('f', 362, 402), ('g', 718, 401), ('h', 1080, 400)]

W, H = 1400, 795
fig = plt.figure(figsize=(W / 100, H / 100), dpi=100)


def add_axes(left, top, bottom, width=235):
    return fig.add_axes([left / W, 1 - bottom / H, width / W, (bottom - top) / H])


for p in panels_top:
    ax = add_axes(p['left'], 35, 323)
    for pts, col, size in p['groups']:
        xs, ys = zip(*pts)
        ax.scatter(xs, ys, s=size, c=col, linewidths=0, zorder=3)
    ax.set_xlim(p['xlim'])
    ax.set_ylim(p['ylim'])
    ax.set_xticks(p['xt'])
    ax.set_yticks(p['yt'])
    ax.grid(True, color='#8a8a8a', linewidth=0.7, zorder=0)
    ax.set_axisbelow(True)
    ax.tick_params(direction='in', length=2.5, width=1, labelsize=18, color='#262626')
    ax.tick_params(axis='x', pad=10)
    ax.tick_params(axis='y', pad=6)
    for side in ['top', 'right']:
        ax.spines[side].set_visible(False)
    for side in ['left', 'bottom']:
        ax.spines[side].set_linewidth(1.5)
        ax.spines[side].set_color('#262626')
    ax.set_title(p['title'], fontsize=20, fontweight='bold', pad=8)
    ax.set_xlabel(p['xl'], fontsize=20, fontweight='bold', va='center')
    ax.xaxis.set_label_coords(.495, -.202)
    ax.set_ylabel(p['yl'], fontsize=20, fontweight='bold', va='center')
    ax.yaxis.set_label_coords(p['ylx'], .5)

for i, p in enumerate(panels_bottom):
    ax = add_axes(p['left'], 437, 725, 234)
    e = p['edge']
    mesh = ax.pcolormesh(rank_x, rank_y, np.array(p['heat']), cmap='jet', vmin=0, vmax=1, shading='gouraud', zorder=2)
    outline = Polygon([(rank_x[0], e[0]), (1, e[1]), (1, e[2]), (rank_x[0], e[3])], closed=True, transform=ax.transData, facecolor='none', edgecolor='none')
    ax.add_patch(outline)
    mesh.set_clip_path(outline)
    ax.scatter(corner_x, corner_y, s=5, c='#d02020', marker='_', linewidths=1, zorder=3, clip_on=False)
    ax.set_xlim(0, 1)
    ax.set_ylim(-1, 1)
    ax.set_xticks([0, 1])
    ax.set_yticks([-1, 0, 1])
    ax.tick_params(length=0, labelsize=18)
    ax.tick_params(axis='x', pad=8)
    ax.tick_params(axis='y', pad=8)
    for side in ['top', 'right']:
        ax.spines[side].set_visible(False)
    for side in ['left', 'bottom']:
        ax.spines[side].set_linewidth(0.9)
        ax.spines[side].set_color('#262626')
    ax.set_title(r'$\overline{R}\,=\,' + p['r'] + '$', fontsize=20, pad=11)
    ax.set_xlabel('Original rank', fontsize=20, fontweight='bold', va='center')
    ax.xaxis.set_label_coords(.5, -.195)
    if i == 0:
        ax.set_ylabel('Rank error', fontsize=20, fontweight='bold', va='center')
        ax.yaxis.set_label_coords(-.207, .5)

for ch, lx, ly in letters:
    fig.text(lx / W, 1 - ly / H, ch, fontsize=42, fontweight='bold', ha='left', va='baseline')

fig.savefig('out.png', dpi=100)
